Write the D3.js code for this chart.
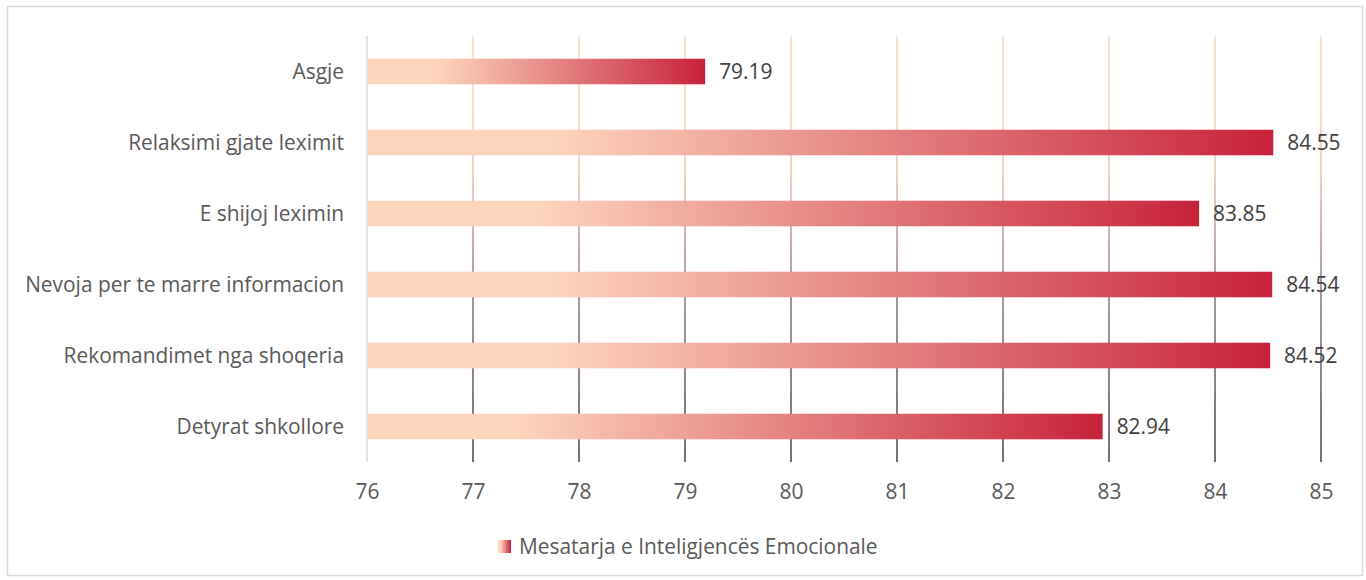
<!DOCTYPE html>
<html>
<head>
<meta charset="utf-8">
<script src="https://cdn.jsdelivr.net/npm/d3@7"></script>
<style>
  body { margin: 0; background: #fff; }
  text { font-family: "Open Sans", "Liberation Sans", sans-serif; }
</style>
</head>
<body>
<svg id="chart" width="1366" height="580"></svg>
<script>
var categories = ["Asgje", "Relaksimi gjate leximit", "E shijoj leximin",
  "Nevoja per te marre informacion", "Rekomandimet nga shoqeria", "Detyrat shkollore"];
var values = [79.19, 84.55, 83.85, 84.54, 84.52, 82.94];
var ticks = [76, 77, 78, 79, 80, 81, 82, 83, 84, 85];
var seriesName = "Mesatarja e Inteligjencës Emocionale";

var svg = d3.select("#chart");
var margin = {left: 367, right: 45, top: 36, bottom: 118};
var width = +svg.attr("width");
var height = +svg.attr("height");
var fontSize = 20.9;

var x = d3.scaleLinear().domain([76, 85]).range([margin.left, width - margin.right]);
var y = d3.scaleBand().domain(categories).range([margin.top, height - margin.bottom]).paddingInner(0.64).paddingOuter(0.32);

var defs = svg.append("defs");
var barGrad = defs.append("linearGradient").attr("id", "barGrad")
    .attr("x1", "0").attr("x2", "1").attr("y1", "0").attr("y2", "0");
barGrad.append("stop").attr("offset", "0").attr("stop-color", "#fdd5bd");
barGrad.append("stop").attr("offset", "0.2").attr("stop-color", "#fdd5bd");
barGrad.append("stop").attr("offset", "1").attr("stop-color", "#c8223b");

var gridGrad = defs.append("linearGradient").attr("id", "gridGrad")
    .attr("gradientUnits", "userSpaceOnUse")
    .attr("x1", 0).attr("x2", 0).attr("y1", margin.top).attr("y2", height - margin.bottom);
gridGrad.append("stop").attr("offset", "0").attr("stop-color", "#fdd5c0");
gridGrad.append("stop").attr("offset", "0.3").attr("stop-color", "#f4c6b2");
gridGrad.append("stop").attr("offset", "0.6").attr("stop-color", "#8c7480");
gridGrad.append("stop").attr("offset", "1").attr("stop-color", "#4e3a4e");

// chart border
svg.append("rect").attr("x", 7.5).attr("y", 6.5).attr("width", 1355).attr("height", 569)
    .attr("fill", "#fff").attr("stroke", "#d9d9d9").attr("stroke-width", 1.5);

// gridlines
svg.append("g").selectAll("line").data(ticks.slice(1)).enter().append("line")
    .attr("x1", d => x(d)).attr("x2", d => x(d))
    .attr("y1", margin.top).attr("y2", height - margin.bottom)
    .attr("stroke", "url(#gridGrad)").attr("stroke-width", 1.5);

// value axis baseline
svg.append("line").attr("x1", x(76)).attr("x2", x(76))
    .attr("y1", margin.top).attr("y2", height - margin.bottom)
    .attr("stroke", "#d9d9d9").attr("stroke-width", 1.5);

// bars
svg.append("g").selectAll("rect").data(categories).enter().append("rect")
    .attr("x", x(76) + 1)
    .attr("y", d => y(d))
    .attr("width", (d, i) => x(values[i]) - x(76) - 1)
    .attr("height", y.bandwidth())
    .attr("fill", "url(#barGrad)");

// value labels
svg.append("g").selectAll("text").data(categories).enter().append("text")
    .attr("x", (d, i) => x(values[i]) + 14)
    .attr("y", d => y(d) + y.bandwidth() / 2)
    .attr("dy", "0.35em")
    .attr("fill", "#404040").attr("font-size", fontSize)
    .text((d, i) => values[i].toFixed(2));

// category labels
svg.append("g").selectAll("text").data(categories).enter().append("text")
    .attr("x", x(76) - 23)
    .attr("y", d => y(d) + y.bandwidth() / 2)
    .attr("dy", "0.35em")
    .attr("text-anchor", "end")
    .attr("fill", "#595959").attr("font-size", fontSize)
    .text(d => d);

// x tick labels
var xAxis = d3.axisBottom(x).tickValues(ticks).tickSize(0).tickPadding(22).tickFormat(d3.format("d"));
var gx = svg.append("g").attr("transform", `translate(0, ${height - margin.bottom})`).call(xAxis);
gx.select(".domain").remove();
gx.selectAll("text").attr("fill", "#595959").attr("font-size", fontSize)
    .style("font-family", "'Open Sans', 'Liberation Sans', sans-serif");

// legend
var lg = svg.append("g").attr("transform", "translate(498, 540)");
lg.append("rect").attr("width", 13).attr("height", 13).attr("fill", "url(#barGrad)");
lg.append("text").attr("x", 21).attr("y", 6.5).attr("dy", "0.35em")
    .attr("fill", "#595959").attr("font-size", fontSize).text(seriesName);
</script>
</body>
</html>
